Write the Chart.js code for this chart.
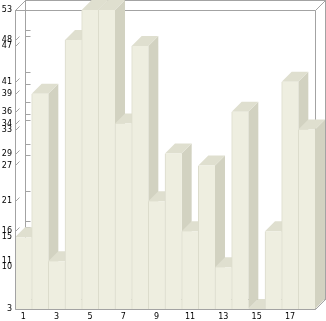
<!DOCTYPE html>
<html>
<head>
<meta charset="UTF-8">
<title>3D bars</title>
<script src="https://cdn.jsdelivr.net/npm/chart.js"></script>
<style>
  body { margin: 0; background: #fff; }
  canvas { display: block; }
</style>
</head>
<body>
<canvas id="chart" width="326" height="321"></canvas>
<script>
// categories and values
var categories = ['1','2','3','4','5','6','7','8','9','10','11','12','13','14','15','16','17','18'];
var values = [15, 39, 11, 48, 53, 53, 34, 47, 21, 29, 16, 27, 10, 36, 3, 16, 41, 33];
var yTicks = [3, 10, 11, 15, 16, 21, 27, 29, 33, 34, 36, 39, 41, 47, 48, 53];

var depth = 10;          // 3d offset, right and up
var lineColor = '#a3a3a3';
var frontColor = '#eeeee0';
var topColor = '#dfdfcf';
var sideColor = '#d2d2c1';

function poly(ctx, pts, fill) {
    ctx.beginPath();
    ctx.moveTo(pts[0][0], pts[0][1]);
    for (var i = 1; i < pts.length; i++) ctx.lineTo(pts[i][0], pts[i][1]);
    ctx.closePath();
    ctx.fillStyle = fill;
    ctx.fill();
}

function line(ctx, x1, y1, x2, y2) {
    ctx.beginPath();
    ctx.moveTo(x1, y1);
    ctx.lineTo(x2, y2);
    ctx.stroke();
}

// bar geometry, with the base held to the bottom of the plot
function barBox(el, a) {
    var p = el.getProps(['x', 'y', 'base', 'width'], true);
    var base = Math.min(p.base, a.bottom);
    return { l: p.x - p.width / 2, r: p.x + p.width / 2, top: Math.min(p.y, base), base: base };
}

var box3d = {
    id: 'box3d',
    beforeDatasetsDraw: function(chart) {
        var ctx = chart.ctx, a = chart.chartArea, y = chart.scales.y;
        var l = a.left + 0.5, r = a.right + 0.5, t = a.top + 0.5, b = a.bottom + 0.5;
        ctx.save();
        ctx.strokeStyle = lineColor;
        ctx.lineWidth = 1;
        // back wall
        ctx.strokeRect(l + depth, t - depth, r - l, b - t);
        // front top / right edges and corner diagonals
        line(ctx, l, t, r, t);
        line(ctx, r, t, r, b);
        line(ctx, l, t, l + depth, t - depth);
        line(ctx, r, t, r + depth, t - depth);
        // ticks: slash at the front, short mark on the back wall
        yTicks.forEach(function(v) {
            var py = Math.round(y.getPixelForValue(v)) + 0.5;
            line(ctx, l, py, l + 4, py - 4);
            line(ctx, l + depth, py - depth, l + depth + 5, py - depth);
        });
        // side and top faces of the bars
        var bars = chart.getDatasetMeta(0).data;
        bars.forEach(function(el) {
            var q = barBox(el, a);
            poly(ctx, [[q.r, q.top], [q.r + depth, q.top - depth], [q.r + depth, q.base - depth], [q.r, q.base]], sideColor);
        });
        bars.forEach(function(el) {
            var q = barBox(el, a);
            poly(ctx, [[q.l, q.top], [q.l + depth, q.top - depth], [q.r + depth, q.top - depth], [q.r, q.top]], topColor);
        });
        ctx.restore();
    },
    afterDatasetsDraw: function(chart) {
        var ctx = chart.ctx, a = chart.chartArea;
        var l = a.left + 0.5, r = a.right + 0.5, b = a.bottom + 0.5;
        ctx.save();
        ctx.strokeStyle = lineColor;
        ctx.lineWidth = 1;
        line(ctx, l, a.top, l, b);
        line(ctx, l, b, r, b);
        line(ctx, r, b, r + depth, b - depth);
        line(ctx, r + depth, b - depth, r + depth, a.top - depth);
        ctx.restore();
    }
};

new Chart(document.getElementById('chart'), {
    type: 'bar',
    data: {
        labels: categories,
        datasets: [{
            data: values,
            base: 3,
            backgroundColor: frontColor,
            borderColor: '#dcdccc',
            borderWidth: { left: 1, top: 0, right: 0, bottom: 0 },
            borderSkipped: false,
            barPercentage: 1,
            categoryPercentage: 1
        }]
    },
    options: {
        responsive: false,
        animation: false,
        layout: { padding: { top: 10, right: 11, left: 0, bottom: 0 } },
        plugins: { legend: { display: false }, tooltip: { enabled: false } },
        scales: {
            x: {
                grid: { display: false, drawTicks: false },
                border: { display: false },
                ticks: {
                    autoSkip: false,
                    maxRotation: 0,
                    padding: 3,
                    color: '#000',
                    font: { family: 'DejaVu Sans', size: 8 },
                    callback: function(v, i) { return i % 2 === 0 ? categories[i] : ''; }
                },
                afterFit: function(s) { s.height = 12; }
            },
            y: {
                min: 3,
                max: 53,
                grid: { display: false, drawTicks: false },
                border: { display: false },
                afterBuildTicks: function(s) {
                    s.ticks = yTicks.map(function(v) { return { value: v }; });
                },
                ticks: {
                    autoSkip: false,
                    padding: 3,
                    color: '#000',
                    font: { family: 'DejaVu Sans', size: 8 }
                },
                afterFit: function(s) { s.width = 15; }
            }
        }
    },
    plugins: [box3d]
});
</script>
</body>
</html>
